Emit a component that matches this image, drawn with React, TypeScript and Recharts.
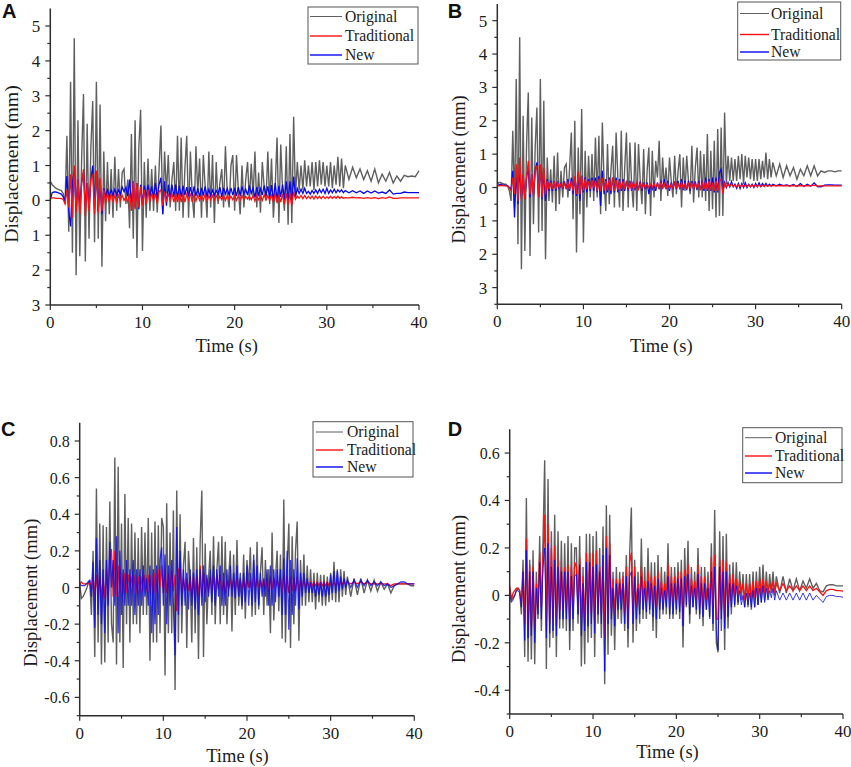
import { LineChart, Line, XAxis, YAxis } from "recharts";

const times = [
  0, 0.2, 0.4, 0.6, 0.8, 1, 1.2, 1.4, 1.6, 1.8,
  2, 2.2, 2.4, 2.6, 2.8, 3, 3.2, 3.4, 3.6, 3.8,
  4, 4.2, 4.4, 4.6, 4.8, 5, 5.2, 5.4, 5.6, 5.8,
  6, 6.2, 6.4, 6.6, 6.8, 7, 7.2, 7.4, 7.6, 7.8,
  8, 8.2, 8.4, 8.6, 8.8, 9, 9.2, 9.4, 9.6, 9.8,
  10, 10.2, 10.4, 10.6, 10.8, 11, 11.2, 11.4, 11.6, 11.8,
  12, 12.2, 12.4, 12.6, 12.8, 13, 13.2, 13.4, 13.6, 13.8,
  14, 14.2, 14.4, 14.6, 14.8, 15, 15.2, 15.4, 15.6, 15.8,
  16, 16.2, 16.4, 16.6, 16.8, 17, 17.2, 17.4, 17.6, 17.8,
  18, 18.2, 18.4, 18.6, 18.8, 19, 19.2, 19.4, 19.6, 19.8,
  20, 20.2, 20.4, 20.6, 20.8, 21, 21.2, 21.4, 21.6, 21.8,
  22, 22.2, 22.4, 22.6, 22.8, 23, 23.2, 23.4, 23.6, 23.8,
  24, 24.2, 24.4, 24.6, 24.8, 25, 25.2, 25.4, 25.6, 25.8,
  26, 26.2, 26.4, 26.6, 26.8, 27, 27.2, 27.4, 27.6, 27.8,
  28, 28.2, 28.4, 28.6, 28.8, 29, 29.2, 29.4, 29.6, 29.8,
  30, 30.2, 30.4, 30.6, 30.8, 31, 31.2, 31.4, 31.6, 31.8,
  32, 32.4, 32.8, 33.2, 33.6, 34, 34.4, 34.8, 35.2, 35.6,
  36, 36.4, 36.8, 37.2, 37.6, 38, 38.4, 38.8, 39.2, 39.6,
  40,
];

const originalA = [
  0.55, 0.45, 0.4, 0.35, 0.32, 0.3, 0.28, 0.2, -0.1, 1.85,
  -0.9, 3.4, -1.5, 4.65, -2.15, 2.3, -1.6, 1.2, 3.05, -1.75,
  2.2, -1.1, 1.5, 2.85, -1.2, 3.4, -1.1, 2.75, -1.9, 1.4,
  -0.6, 1.1, -0.4, 0.9, -0.5, 1.25, -0.3, 0.9, -0.2, 0.8,
  0.9, -0.1, 0.6, -0.8, 1.9, -1.1, 2.3, -1.65, 1.5, 2.6,
  -1.45, 1.1, -0.5, 1.2, -0.3, 0.9, -0.3, 1.0, -0.35, 0.9,
  2.15, -0.4, 1.4, 0.2, 1.3, -0.2, 0.6, 1.1, -0.3, 1.85,
  -0.3, 1.8, -0.5, 0.9, 1.85, -0.5, 1.4, 0.1, -0.5, 1.55,
  0.2, 1.2, -0.5, 1.3, 0.4, -0.5, 1.4, -0.2, 1.3, -0.65,
  1.1, -0.1, 0.5, 0.9, -0.2, 1.55, 0.2, -0.2, 1.0, 1.3,
  -0.3, 1.3, 0.3, -0.4, 1.0, -0.2, 0.6, 1.1, 0, 1.05,
  0.1, 1.4, -0.2, 0.8, -0.35, 1.1, 0.4, 0, 1.4, -0.1,
  1.2, -0.5, 0.4, 1.8, -0.65, 1.6, 0.3, -0.3, 1.55, -0.7,
  1.9, -0.65, 2.4, 0.1, 1.1, 0.3, 1.0, 0.3, 1.15, 0.4,
  1.0, 0.4, 1.1, 0.3, 1.1, 0.4, 1.15, 0.45, 1.1, 0.4,
  1.0, 0.4, 1.1, 0.35, 1.0, 0.45, 1.25, 0.4, 1.2, 0.35,
  1.0, 0.6, 0.95, 0.65, 0.9, 0.6, 0.85, 0.55, 0.9, 0.5,
  0.75, 0.55, 0.8, 0.5, 0.7, 0.55, 0.72, 0.68, 0.7, 0.68,
  0.85,
];
const traditionalA = [
  0.06, 0.07, 0.07, 0.06, 0.06, 0.06, 0.05, 0.03, -0.1, 0.3,
  -0.2, 0.75, -0.5, 1.0, -0.35, 0.6, -0.4, 0.5, 0.9, -0.45,
  0.5, -0.3, 0.6, 0.75, -0.4, 0.85, -0.35, 0.65, -0.3, 0.3,
  -0.1, 0.2, -0.05, 0.2, -0.05, 0.15, -0.05, 0.15, 0, 0.15,
  0, 0.1, -0.05, 0.2, -0.3, 0.55, -0.25, 0.5, -0.2, 0.4,
  -0.15, 0.3, -0.1, 0.3, -0.05, 0.2, 0, 0.2, -0.1, 0.25,
  0.3, -0.15, 0.25, -0.05, 0.2, 0, 0.2, -0.05, 0.2, -0.05,
  0.2, -0.05, 0.2, -0.05, 0.18, 0, 0.2, -0.05, 0.18, -0.02,
  0.15, 0, 0.15, 0, 0.18, -0.02, 0.14, 0.02, 0.14, 0,
  0.14, 0.02, 0.12, 0.02, 0.14, 0, 0.14, 0.02, 0.12, 0.02,
  0.14, 0, 0.14, 0.02, 0.14, 0.02, 0.12, 0.04, 0.12, 0.02,
  0.14, -0.02, 0.14, 0.02, 0.12, 0, 0.16, 0.02, 0.14, 0,
  0.15, -0.05, 0.2, -0.08, 0.16, -0.05, 0.18, -0.1, 0.2, -0.12,
  0.2, -0.15, 0.25, 0.03, 0.12, 0.06, 0.14, 0.05, 0.14, 0.05,
  0.12, 0.05, 0.13, 0.04, 0.13, 0.05, 0.12, 0.05, 0.12, 0.05,
  0.1, 0.06, 0.12, 0.06, 0.11, 0.06, 0.12, 0.06, 0.1, 0.06,
  0.08, 0.07, 0.09, 0.07, 0.08, 0.06, 0.08, 0.06, 0.08, 0.05,
  0.08, 0.06, 0.1, 0.06, 0.06, 0.07, 0.07, 0.07, 0.07, 0.07,
  0.07,
];
const newA = [
  0, 0.22, 0.24, 0.24, 0.22, 0.2, 0.18, 0.1, -0.05, 0.7,
  -0.3, -0.75, 0.5, 0.85, -0.3, 0.6, -0.2, 0.5, 0.8, -0.2,
  0.5, -0.2, 0.6, 1.0, -0.25, 0.85, -0.3, 0.6, -0.4, 0.35,
  0.1, 0.3, 0.12, 0.3, 0.15, 0.32, 0.15, 0.3, 0.18, 0.38,
  0.25, 0.38, 0.12, 0.6, -0.1, 0.55, -0.2, 0.5, -0.25, 0.45,
  -0.1, 0.42, 0.05, 0.45, 0.1, 0.4, 0.05, 0.5, 0.05, 0.45,
  0.65, -0.4, 0.55, -0.15, 0.45, 0.05, 0.45, 0.1, 0.45, 0.08,
  0.42, 0.1, 0.42, 0.15, 0.38, 0.12, 0.38, 0.12, 0.4, 0.12,
  0.35, 0.1, 0.36, 0.14, 0.4, 0.1, 0.32, 0.14, 0.3, 0.15,
  0.28, 0.18, 0.38, 0.1, 0.36, 0.18, 0.34, 0.14, 0.36, 0.15,
  0.36, 0.12, 0.38, 0.14, 0.4, 0.18, 0.32, 0.15, 0.42, 0.2,
  0.36, 0.08, 0.38, 0.16, 0.34, 0.16, 0.42, 0.14, 0.4, 0.08,
  0.44, -0.02, 0.5, 0.02, 0.42, 0.1, 0.45, 0.02, 0.55, -0.05,
  0.55, -0.1, 0.68, 0.1, 0.34, 0.2, 0.32, 0.2, 0.35, 0.2,
  0.26, 0.18, 0.28, 0.2, 0.3, 0.2, 0.32, 0.22, 0.32, 0.2,
  0.35, 0.2, 0.3, 0.22, 0.32, 0.22, 0.3, 0.24, 0.3, 0.22,
  0.28, 0.22, 0.28, 0.22, 0.27, 0.2, 0.27, 0.21, 0.27, 0.21,
  0.24, 0.2, 0.3, 0.18, 0.2, 0.2, 0.24, 0.22, 0.22, 0.22,
  0.22,
];

const originalB = [
  0.1, 0.15, 0.15, 0.12, 0.1, 0.1, 0.05, -0.1, -0.4, 1.7,
  -0.6, 3.25, -1.7, 4.5, -2.45, 2.15, -1.9, 1.3, 2.85, -2.05,
  2.1, -1.1, 1.2, 2.4, -1.35, 3.25, -1.3, 2.6, -2.15, 0.9,
  -0.4, 0.55, -0.45, 0.95, -0.7, 1.05, -0.5, 0.5, -0.3, 0.6,
  0.7, -0.3, 0.6, 1.65, -0.95, 2.0, -1.95, 1.2, -0.8, 2.35,
  -1.65, 1.1, -0.6, 0.95, -0.3, 1.0, -0.4, 1.5, -0.3, 1.55,
  -0.8, 1.95, 0.2, -0.7, 1.3, -0.5, 0.5, 1.25, -0.6, 1.65,
  0.3, -0.6, 1.7, -0.7, 0.6, 1.65, -0.6, 1.35, 0.1, -0.6,
  1.35, -0.7, 1.3, 0.2, -0.5, 1.15, -0.8, 0.5, 1.2, -0.85,
  1.1, -0.3, 0.8, 0.3, 1.4, -0.4, 0.9, 0, 0.6, -0.25,
  0.9, 0.2, -0.3, 0.95, -0.2, 0.5, 1.0, -0.6, 0.9, -0.1,
  0.95, 0.2, -0.2, 1.25, -0.45, 0.6, 1.2, -0.3, 1.1, -0.3,
  1.0, -0.4, 1.6, -0.7, 1.1, -0.65, 1.4, -0.9, 1.75, -0.85,
  1.8, -0.85, 2.25, 0.1, 0.95, 0.2, 0.9, 0.2, 0.85, 0.2,
  0.95, 0.25, 1.0, 0.1, 0.95, 0.3, 0.9, 0.25, 0.85, 0.2,
  0.85, 0.2, 0.85, 0.25, 0.8, 0.3, 1.05, 0.25, 0.85, 0.3,
  0.75, 0.35, 0.7, 0.3, 0.65, 0.35, 0.6, 0.25, 0.55, 0.35,
  0.65, 0.35, 0.65, 0.35, 0.5, 0.45, 0.5, 0.5, 0.47, 0.5,
  0.5,
];
const traditionalB = [
  0.05, 0.05, 0.06, 0.06, 0.05, 0.05, 0.04, -0.02, -0.1, 0.3,
  -0.2, 0.7, -0.4, 0.9, -0.35, 0.4, -0.35, 0.3, 0.8, -0.2,
  0.4, -0.25, 0.5, 0.65, -0.3, 0.7, -0.3, 0.6, -0.2, 0.2,
  -0.05, 0.15, -0.05, 0.18, -0.05, 0.15, 0, 0.12, 0, 0.12,
  -0.02, 0.15, -0.05, 0.2, -0.1, 0.35, -0.2, 0.48, -0.2, 0.35,
  -0.1, 0.25, -0.05, 0.2, -0.05, 0.22, -0.02, 0.2, -0.1, 0.25,
  -0.12, 0.3, -0.1, 0.2, -0.08, 0.25, -0.1, 0.3, -0.1, 0.22,
  -0.08, 0.2, -0.05, 0.18, -0.05, 0.15, -0.03, 0.14, -0.04, 0.15,
  -0.03, 0.14, -0.05, 0.12, -0.02, 0.12, 0, 0.1, 0, 0.1,
  0, 0.12, 0, 0.12, -0.02, 0.14, 0, 0.12, -0.02, 0.12,
  -0.02, 0.1, -0.02, 0.14, 0, 0.12, -0.02, 0.14, -0.02, 0.12,
  -0.02, 0.12, -0.02, 0.14, -0.02, 0.12, -0.02, 0.12, -0.04, 0.14,
  -0.05, 0.18, -0.08, 0.2, -0.08, 0.15, -0.1, 0.2, -0.12, 0.2,
  0.25, -0.18, 0.12, 0.02, 0.1, 0.03, 0.1, 0.03, 0.08, 0.02,
  0.08, 0.02, 0.08, 0.03, 0.07, 0.02, 0.08, 0.03, 0.07, 0.03,
  0.07, 0.03, 0.07, 0.03, 0.07, 0.04, 0.07, 0.04, 0.06, 0.04,
  0.06, 0.05, 0.06, 0.05, 0.06, 0.04, 0.06, 0.04, 0.06, 0.04,
  0.06, 0.05, 0.07, 0.04, 0.05, 0.05, 0.05, 0.05, 0.05, 0.05,
  0.05,
];
const newB = [
  0.06, 0.08, 0.1, 0.08, 0.07, 0.06, 0.05, 0, -0.05, 0.5,
  -0.9, 0.5, -0.5, 0.6, -0.3, 0.35, -0.35, 0.3, 0.6, -0.3,
  0.4, -0.2, 0.5, 0.75, -0.3, 0.65, -0.35, 0.5, -0.4, 0.25,
  -0.1, 0.2, -0.1, 0.2, -0.1, 0.18, -0.05, 0.15, -0.05, 0.18,
  -0.05, 0.25, -0.1, 0.3, -0.2, 0.3, -0.25, 0.4, -0.4, 0.35,
  -0.15, 0.3, -0.15, 0.25, -0.1, 0.3, -0.1, 0.3, -0.15, 0.35,
  -0.55, 0.5, -0.2, 0.25, -0.15, 0.3, -0.2, 0.3, -0.15, 0.3,
  -0.15, 0.25, -0.1, 0.25, -0.1, 0.2, -0.1, 0.2, -0.1, 0.18,
  -0.08, 0.16, -0.05, 0.18, -0.1, 0.15, -0.05, 0.15, -0.2, 0.1,
  -0.05, 0.12, -0.1, 0.15, -0.05, 0.2, -0.05, 0.25, -0.05, 0.2,
  -0.1, 0.15, -0.05, 0.18, -0.05, 0.2, -0.05, 0.25, -0.08, 0.2,
  -0.08, 0.2, -0.1, 0.2, -0.05, 0.18, -0.08, 0.2, -0.08, 0.2,
  -0.1, 0.3, -0.1, 0.25, -0.1, 0.3, -0.15, 0.3, -0.15, 0.45,
  0.55, -0.1, 0.15, 0, 0.15, 0.02, 0.18, 0.02, 0.1, -0.02,
  0.12, -0.03, 0.12, 0, 0.14, 0, 0.1, 0.02, 0.1, 0,
  0.12, 0.02, 0.14, 0.03, 0.12, 0.04, 0.12, 0.04, 0.1, 0.05,
  0.1, 0.05, 0.1, 0.06, 0.08, 0.05, 0.09, 0.03, 0.12, 0.03,
  0.1, 0.04, 0.14, 0.03, 0.02, 0.07, 0.08, 0.08, 0.07, 0.07,
  0.07,
];

const originalC = [
  0.02, -0.06, -0.05, -0.03, -0.01, 0.02, 0.04, -0.15, 0.2, -0.38,
  0.54, -0.3, 0.35, -0.42, 0.34, -0.41, 0.33, -0.3, 0.47, -0.2,
  -0.3, 0.71, -0.42, 0.66, -0.3, 0.35, -0.44, 0.51, -0.2, 0.38,
  -0.3, 0.35, -0.2, 0.3, -0.2, 0.27, -0.25, 0.33, -0.15, 0.3,
  -0.15, 0.38, -0.4, 0.3, -0.3, 0.36, -0.3, 0.34, -0.25, 0.38,
  0.33, -0.48, 0.46, -0.25, 0.3, -0.25, 0.42, -0.56, 0.53, -0.3,
  0.4, -0.25, 0.12, 0.25, -0.33, 0.2, 0.05, -0.3, 0.27, -0.25,
  0.22, -0.39, 0.25, 0.53, -0.38, 0.24, -0.2, 0.05, 0.2, -0.15,
  0.28, -0.2, 0.1, 0.25, -0.2, 0.28, -0.15, 0.25, -0.2, 0.05,
  0.2, -0.24, 0.18, -0.15, 0.26, -0.1, 0.05, -0.12, 0.18, -0.17,
  0.15, 0, 0.22, -0.16, 0.15, -0.15, 0.25, -0.12, 0.08, 0.22,
  -0.15, 0.15, -0.1, 0.1, -0.25, 0.3, -0.18, 0.05, 0.2, -0.13,
  0.18, -0.28, 0.48, -0.3, 0.1, 0.35, -0.33, 0.28, -0.2, 0.2,
  0.36, -0.29, 0.15, -0.1, 0.18, -0.1, 0.12, -0.08, 0.1, -0.08,
  0.08, -0.12, 0.08, -0.08, 0.07, -0.1, 0.07, -0.1, 0.06, -0.08,
  0.08, -0.07, 0.14, -0.08, 0.1, -0.08, 0.1, -0.05, 0.09, -0.04,
  0.06, -0.05, 0.05, -0.04, 0.05, -0.03, 0.04, -0.02, 0.04, -0.02,
  0.03, -0.01, 0.02, -0.03, 0.01, 0.02, 0.02, 0.02, 0.02, 0.01,
  0.01,
];
const traditionalC = [
  0.02, 0.03, 0.02, 0.02, 0.02, 0.02, 0.03, -0.01, 0.06, -0.05,
  0.07, -0.04, 0.06, -0.06, 0.05, -0.06, 0.1, -0.05, 0.14, 0.21,
  -0.05, 0.2, -0.05, 0.12, -0.03, 0.08, -0.04, 0.08, -0.03, 0.07,
  0, 0.06, -0.02, 0.07, -0.03, 0.06, -0.03, 0.06, -0.02, 0.07,
  -0.02, 0.07, -0.03, 0.07, -0.04, 0.08, -0.03, 0.1, 0, 0.12,
  -0.03, 0.1, -0.03, 0.08, 0, 0.09, -0.02, 0.07, -0.13, 0.1,
  0.1, -0.03, 0.05, -0.02, 0.05, -0.02, 0.06, -0.05, 0.06, -0.04,
  0.06, -0.05, 0.12, -0.05, 0.08, -0.03, 0.05, -0.03, 0.06, -0.02,
  0.06, -0.02, 0.07, -0.01, 0.07, -0.02, 0.04, -0.03, 0.04, -0.01,
  0.05, -0.01, 0.04, -0.01, 0.05, -0.02, 0.04, -0.01, 0.04, -0.01,
  0.05, 0, 0.04, -0.01, 0.06, 0, 0.05, 0, 0.04, 0,
  0.04, 0, 0.05, -0.02, 0.06, -0.01, 0.05, 0, 0.04, 0,
  0.05, -0.03, 0.07, -0.03, 0.06, -0.03, 0.06, -0.02, 0.05, -0.02,
  0.06, -0.02, 0.04, 0, 0.04, 0, 0.03, 0.01, 0.03, 0.01,
  0.03, 0.01, 0.03, 0.01, 0.03, 0.01, 0.03, 0.01, 0.03, 0.01,
  0.03, 0.01, 0.03, 0.01, 0.03, 0.01, 0.03, 0.02, 0.03, 0.02,
  0.03, 0.02, 0.03, 0.02, 0.03, 0.02, 0.03, 0.02, 0.02, 0.02,
  0.02, 0.02, 0.02, 0.01, 0.02, 0.02, 0.02, 0.02, 0.02, 0.02,
  0.02,
];
const newC = [
  0.02, 0.01, 0.01, 0.01, 0.02, 0.03, 0.04, -0.05, 0.14, -0.22,
  0.27, -0.15, 0.15, -0.2, 0.1, -0.25, 0.15, -0.1, 0.25, 0,
  0.15, -0.1, 0.28, -0.25, 0.2, -0.15, 0.1, -0.1, 0.15, -0.1,
  0.1, -0.1, 0.15, -0.15, 0.1, -0.1, 0.1, -0.1, 0.12, -0.05,
  0.05, -0.1, 0.12, -0.25, 0.1, -0.2, 0.12, -0.15, 0.15, 0.22,
  -0.1, 0.18, -0.2, 0.12, -0.1, 0.15, -0.1, -0.37, 0.33, -0.15,
  0.2, -0.1, 0.1, -0.1, 0.08, -0.12, 0.1, -0.1, 0.08, -0.12,
  0.1, -0.15, 0.1, -0.1, 0.12, -0.08, 0.07, -0.05, 0.1, -0.08,
  0.12, -0.1, 0.1, -0.05, 0.12, -0.1, 0.08, -0.1, 0.1, -0.05,
  0.12, -0.05, 0.08, -0.06, 0.12, -0.05, 0.08, -0.1, 0.08, -0.08,
  0.12, -0.1, 0.08, -0.1, 0.18, -0.08, 0.12, -0.1, 0.08, -0.05,
  0.05, -0.05, 0.1, -0.1, 0.12, -0.1, 0.1, -0.08, 0.1, -0.05,
  0.1, -0.15, 0.16, -0.15, 0.2, -0.23, 0.15, -0.15, 0.1, -0.1,
  0.16, -0.12, 0.08, -0.05, 0.08, -0.03, 0.05, -0.03, 0.03, -0.03,
  0.03, -0.05, 0.03, -0.04, 0.03, -0.05, 0.03, -0.05, 0.03, -0.04,
  0.07, -0.03, 0.09, -0.03, 0.09, -0.02, 0.06, -0.01, 0.05, 0,
  0.04, 0, 0.04, 0, 0.04, 0.01, 0.04, 0.01, 0.03, 0.01,
  0.03, 0.01, 0.02, 0, 0.01, 0.02, 0.03, 0.03, 0.02, 0.02,
  0.02,
];

const originalD = [
  0.03, -0.02, -0.01, 0, 0.02, 0.03, 0.02, -0.08, 0.15, -0.26,
  0.41, -0.28, 0.15, -0.27, 0.19, -0.29, 0.1, -0.1, 0.25, -0.15,
  0.24, 0.57, -0.31, 0.49, -0.22, 0.27, -0.18, 0.34, -0.26, 0.27,
  -0.14, 0.23, -0.14, 0.22, -0.15, 0.25, -0.23, 0.22, -0.15, 0.2,
  0.2, -0.12, 0.25, -0.3, 0.12, -0.29, 0.26, -0.2, 0.26, -0.18,
  0.25, -0.26, 0.27, -0.12, 0.2, -0.18, 0.29, -0.375, 0.38, -0.25,
  0.34, -0.17, 0.1, -0.23, 0.12, -0.1, 0.1, -0.12, 0.1, -0.15,
  0.17, -0.22, 0.18, 0.37, -0.2, 0.15, -0.15, 0.1, -0.12, 0.24,
  -0.1, 0.12, -0.1, 0.2, -0.08, 0.14, -0.15, 0.14, -0.18, 0.17,
  -0.1, 0.12, -0.08, 0.1, -0.08, 0.22, -0.1, 0.12, -0.1, 0.12,
  -0.08, 0.14, -0.1, 0.15, -0.22, 0.2, -0.05, 0.23, -0.12, 0.12,
  -0.05, 0.1, -0.08, 0.2, -0.1, 0.12, -0.13, 0.12, -0.06, 0.1,
  -0.1, 0.22, -0.15, 0.36, -0.2, -0.24, 0.27, -0.15, 0.25, -0.23,
  0.26, -0.14, 0.13, -0.08, 0.14, -0.05, 0.14, -0.04, 0.1, -0.02,
  0.09, -0.05, 0.09, -0.05, 0.09, -0.06, 0.1, -0.05, 0.1, -0.04,
  0.12, -0.03, 0.13, -0.02, 0.1, -0.01, 0.09, 0.01, 0.1, 0,
  0.08, 0.01, 0.08, 0.01, 0.07, 0.02, 0.07, 0.02, 0.06, 0.03,
  0.07, 0.03, 0.05, 0.02, 0.015, 0.04, 0.045, 0.045, 0.04, 0.04,
  0.04,
];
const traditionalD = [
  0.04, -0.02, 0.01, 0.02, 0.03, 0.03, 0.02, -0.04, 0.1, -0.12,
  0.24, -0.15, 0.13, -0.13, 0.12, -0.14, 0.05, -0.05, 0.18, -0.05,
  0.15, 0.34, -0.15, 0.3, -0.12, 0.2, -0.1, 0.21, -0.13, 0.15,
  -0.06, 0.12, -0.07, 0.12, -0.06, 0.13, -0.1, 0.12, -0.05, 0.14,
  0.12, -0.05, 0.16, -0.1, 0.08, -0.12, 0.18, -0.08, 0.18, -0.08,
  0.18, -0.12, 0.19, -0.04, 0.12, -0.08, 0.14, -0.18, 0.25, -0.08,
  0.22, -0.06, 0.07, -0.08, 0.07, -0.02, 0.07, -0.02, 0.08, -0.08,
  0.12, -0.12, 0.14, 0.18, -0.08, 0.12, -0.05, 0.05, -0.03, 0.12,
  -0.02, 0.06, -0.03, 0.1, -0.02, 0.08, -0.05, 0.08, -0.05, 0.1,
  -0.02, 0.06, -0.02, 0.05, -0.02, 0.13, -0.03, 0.08, -0.03, 0.08,
  -0.02, 0.1, -0.04, 0.1, -0.1, 0.11, 0, 0.13, -0.04, 0.07,
  -0.01, 0.06, -0.02, 0.13, -0.05, 0.08, -0.05, 0.08, -0.02, 0.05,
  -0.04, 0.16, -0.06, 0.17, -0.1, -0.1, 0.15, -0.06, 0.15, -0.1,
  0.14, -0.05, 0.09, -0.02, 0.09, 0, 0.07, 0, 0.06, 0.01,
  0.05, -0.02, 0.05, -0.01, 0.05, -0.02, 0.06, -0.01, 0.06, 0,
  0.07, 0, 0.07, 0.01, 0.06, 0.01, 0.05, 0.02, 0.06, 0.01,
  0.05, 0.02, 0.05, 0.02, 0.04, 0.02, 0.04, 0.02, 0.04, 0.02,
  0.04, 0.02, 0.03, 0.015, 0, 0.02, 0.025, 0.025, 0.02, 0.02,
  0.018,
];
const newD = [
  0.01, -0.03, -0.02, 0, 0.02, 0.02, 0.01, -0.05, 0.1, -0.19,
  0.19, -0.18, 0.1, -0.17, 0.1, -0.2, 0.03, -0.08, 0.14, -0.1,
  0.12, 0.2, -0.18, 0.22, -0.16, 0.12, -0.15, 0.15, -0.17, 0.12,
  -0.1, 0.1, -0.1, 0.1, -0.1, 0.1, -0.15, 0.08, -0.1, 0.08,
  0.09, -0.08, 0.13, -0.17, 0.05, -0.15, 0.14, -0.13, 0.14, -0.12,
  0.12, -0.16, 0.13, -0.08, 0.1, -0.12, 0.17, -0.32, 0.2, -0.12,
  0.17, -0.1, 0.03, -0.13, 0.05, -0.06, 0.05, -0.06, 0.05, -0.12,
  0.08, -0.14, 0.08, 0.1, -0.12, 0.08, -0.1, 0.03, -0.08, 0.08,
  -0.06, 0.03, -0.07, 0.06, -0.06, 0.05, -0.09, 0.04, -0.1, 0.07,
  -0.06, 0.03, -0.06, 0.02, -0.05, 0.08, -0.08, 0.05, -0.08, 0.05,
  -0.06, 0.07, -0.07, 0.07, -0.13, 0.08, -0.04, 0.09, -0.08, 0.04,
  -0.05, 0.03, -0.06, 0.09, -0.08, 0.05, -0.09, 0.05, -0.06, 0.03,
  -0.09, 0.1, -0.12, 0.12, -0.15, -0.23, 0.12, -0.1, 0.1, -0.14,
  0.1, -0.09, 0.05, -0.05, 0.05, -0.04, 0.04, -0.03, 0.02, -0.04,
  0, -0.05, 0.01, -0.04, 0.01, -0.05, 0.02, -0.05, 0.03, -0.04,
  0.03, -0.03, 0.04, -0.03, 0.03, -0.02, 0.02, -0.01, 0.03, -0.02,
  0.02, -0.02, 0.01, -0.02, 0.01, -0.02, 0.01, -0.02, 0.01, -0.02,
  0.01, -0.02, 0, -0.015, -0.03, -0.005, 0, 0, -0.005, -0.005,
  -0.008,
];

const xTicks = [0, 5, 10, 15, 20, 25, 30, 35, 40];
const xLabels = [0, 10, 20, 30, 40];
const yTicksA = [-3, -2.5, -2, -1.5, -1, -0.5, 0, 0.5, 1, 1.5, 2, 2.5, 3, 3.5, 4, 4.5, 5];
const yTicksB = [-3.5, ...yTicksA];
const yLabelsAB = [-3, -2, -1, 0, 1, 2, 3, 4, 5];
const yTicksC = [-0.7, -0.6, -0.5, -0.4, -0.3, -0.2, -0.1, 0, 0.1, 0.2, 0.3, 0.4, 0.5, 0.6, 0.7, 0.8];
const yLabelsC = [-0.6, -0.4, -0.2, 0, 0.2, 0.4, 0.6, 0.8];
const yTicksD = [-0.5, -0.4, -0.3, -0.2, -0.1, 0, 0.1, 0.2, 0.3, 0.4, 0.5, 0.6];
const yLabelsD = [-0.4, -0.2, 0, 0.2, 0.4, 0.6];

const GRAY = "#5f5f5f";
const RED = "#ff1010";
const BLUE = "#0808f0";
const INK = "#1c1c1c";
const AXIS = "#2e2e2e";
const SERIF = "'Liberation Serif', 'Times New Roman', serif";

const absLabel = (v: number) => String(Math.abs(v));
const signedLabel = (v: number) => (v === 0 ? "0" : v.toFixed(1));

function makeRows(a: number[], b: number[], c: number[]) {
  return times.map((t, i) => ({ t, Original: a[i], Traditional: b[i], New: c[i] }));
}

const XTick = (props: any) => {
  const { x, y, payload } = props;
  const major = xLabels.includes(payload.value);
  return (
    <g>
      <line x1={x} y1={y} x2={x} y2={y + (major ? 5 : 3)} stroke={AXIS} strokeWidth={1.2} />
      {major && (
        <text x={x} y={y + 23} textAnchor="middle" fontSize={17} fontFamily={SERIF} fill={INK}>
          {payload.value}
        </text>
      )}
    </g>
  );
};

function makeYTick(labels: number[], format: (v: number) => string, fontSize: number) {
  return (props: any) => {
    const { x, y, payload } = props;
    const major = labels.includes(payload.value);
    return (
      <g>
        <line x1={x} y1={y} x2={x - (major ? 5 : 3)} y2={y} stroke={AXIS} strokeWidth={1.2} />
        {major && (
          <text x={x - 10} y={y + 6} textAnchor="end" fontSize={fontSize} fontFamily={SERIF} fill={INK}>
            {format(payload.value)}
          </text>
        )}
      </g>
    );
  };
}

interface PanelProps {
  letter: string;
  letterAt: [number, number];
  rows: ReturnType<typeof makeRows>;
  box: { left: number; top: number; width: number; height: number };
  plot: { x0: number; x1: number; y0: number; y1: number };
  domain: [number, number];
  yTicks: number[];
  yLabels: number[];
  format: (v: number) => string;
  tickFont: number;
  yTitle: { x: number; y: number; size: number };
  xTitle: { x: number; y: number };
  legend: { x: number; y: number; w: number; h: number; rows: number[]; lineX: number; lineW: number; textX: number };
  redOnTop: boolean;
  newWidth: number;
  newOpacity: number;
}

function Panel(p: PanelProps) {
  const { box, plot, legend } = p;
  const redLine = (
    <Line dataKey="Traditional" stroke={RED} strokeWidth={1.3} dot={false} isAnimationActive={false} />
  );
  const blueLine = (
    <Line
      dataKey="New"
      stroke={BLUE}
      strokeWidth={p.newWidth}
      strokeOpacity={p.newOpacity}
      dot={false}
      isAnimationActive={false}
    />
  );
  const names: [string, string][] = [
    ["Original", GRAY],
    ["Traditional", RED],
    ["New", BLUE],
  ];
  return (
    <div style={{ position: "absolute", left: box.left, top: box.top }}>
      <LineChart
        width={box.width}
        height={box.height}
        data={p.rows}
        margin={{
          left: plot.x0 - box.left - 1,
          right: box.left + box.width - plot.x1,
          top: plot.y0 - box.top,
          bottom: box.top + box.height - plot.y1 - 1,
        }}
      >
        <XAxis
          dataKey="t"
          type="number"
          domain={[0, 40]}
          ticks={xTicks}
          interval={0}
          height={1}
          stroke={AXIS}
          strokeWidth={1.5}
          tickLine={false}
          tickSize={0}
          tickMargin={0}
          tick={XTick}
        />
        <YAxis
          type="number"
          domain={p.domain}
          ticks={p.yTicks}
          interval={0}
          width={1}
          stroke={AXIS}
          strokeWidth={1.5}
          tickLine={false}
          tickSize={0}
          tickMargin={0}
          tick={makeYTick(p.yLabels, p.format, p.tickFont)}
        />
        <Line dataKey="Original" stroke={GRAY} strokeWidth={1.4} dot={false} isAnimationActive={false} />
        {p.redOnTop ? blueLine : redLine}
        {p.redOnTop ? redLine : blueLine}
        <g transform={`translate(${-box.left},${-box.top})`}>
          <text x={p.letterAt[0]} y={p.letterAt[1]} fontSize={20} fontWeight="bold" fontFamily="'Liberation Sans', Arial, sans-serif" fill="#111">
            {p.letter}
          </text>
          <text
            transform={`translate(${p.yTitle.x},${p.yTitle.y}) rotate(-90)`}
            textAnchor="middle"
            fontSize={p.yTitle.size}
            fontFamily={SERIF}
            fill={INK}
          >
            Displacement (mm)
          </text>
          <text x={p.xTitle.x} y={p.xTitle.y} textAnchor="middle" fontSize={18.5} fontFamily={SERIF} fill={INK}>
            Time (s)
          </text>
          <rect x={legend.x} y={legend.y} width={legend.w} height={legend.h} fill="#fff" stroke="#555" strokeWidth={1} />
          {names.map(([name, color], i) => (
            <g key={name}>
              <line
                x1={legend.lineX}
                x2={legend.lineX + legend.lineW}
                y1={legend.rows[i]}
                y2={legend.rows[i]}
                stroke={color}
                strokeWidth={i === 0 ? 1 : 1.4}
              />
              <text x={legend.textX} y={legend.rows[i] + 5} fontSize={15.7} fontFamily={SERIF} fill="#222">
                {name}
              </text>
            </g>
          ))}
        </g>
      </LineChart>
    </div>
  );
}

export default function App() {
  return (
    <div style={{ position: "absolute", left: 0, top: 0, width: 851, height: 767, background: "#fff", overflow: "hidden" }}>
      <Panel
        letter="A"
        letterAt={[2, 18]}
        rows={makeRows(originalA, traditionalA, newA)}
        box={{ left: 0, top: 0, width: 435, height: 370 }}
        plot={{ x0: 50.3, x1: 419, y0: 8.6, y1: 305 }}
        domain={[-3, 5.5]}
        yTicks={yTicksA}
        yLabels={yLabelsAB}
        format={absLabel}
        tickFont={17}
        yTitle={{ x: 18, y: 164, size: 19.8 }}
        xTitle={{ x: 226.7, y: 352 }}
        legend={{ x: 308, y: 7, w: 110, h: 57, rows: [16.5, 36, 55], lineX: 310, lineW: 32, textX: 345 }}
        redOnTop
        newWidth={1.3}
        newOpacity={1}
      />
      <Panel
        letter="B"
        letterAt={[447.7, 18.3]}
        rows={makeRows(originalB, traditionalB, newB)}
        box={{ left: 425, top: 0, width: 426, height: 370 }}
        plot={{ x0: 497.3, x1: 841.7, y0: 4, y1: 304.3 }}
        domain={[-3.5, 5.5]}
        yTicks={yTicksB}
        yLabels={yLabelsAB}
        format={absLabel}
        tickFont={17}
        yTitle={{ x: 465, y: 169.3, size: 18.6 }}
        xTitle={{ x: 661.3, y: 352 }}
        legend={{ x: 737.7, y: 2, w: 103, h: 58, rows: [13.5, 34.5, 52], lineX: 740, lineW: 29, textX: 771 }}
        redOnTop
        newWidth={1.3}
        newOpacity={1}
      />
      <Panel
        letter="C"
        letterAt={[1, 435.7]}
        rows={makeRows(originalC, traditionalC, newC)}
        box={{ left: 0, top: 400, width: 425, height: 367 }}
        plot={{ x0: 79.7, x1: 414.3, y0: 422.7, y1: 715.7 }}
        domain={[-0.7, 0.9]}
        yTicks={yTicksC}
        yLabels={yLabelsC}
        format={signedLabel}
        tickFont={16}
        yTitle={{ x: 37, y: 592.7, size: 18.6 }}
        xTitle={{ x: 237.5, y: 762 }}
        legend={{ x: 313, y: 421.7, w: 100, h: 55.3, rows: [432, 450, 467], lineX: 316, lineW: 27, textX: 347 }}
        redOnTop={false}
        newWidth={1.3}
        newOpacity={0.8}
      />
      <Panel
        letter="D"
        letterAt={[447.7, 436]}
        rows={makeRows(originalD, traditionalD, newD)}
        box={{ left: 425, top: 400, width: 426, height: 367 }}
        plot={{ x0: 509.7, x1: 843, y0: 429.3, y1: 714 }}
        domain={[-0.5, 0.7]}
        yTicks={yTicksD}
        yLabels={yLabelsD}
        format={signedLabel}
        tickFont={16}
        yTitle={{ x: 465, y: 589, size: 18.6 }}
        xTitle={{ x: 667.5, y: 758 }}
        legend={{ x: 742.7, y: 427.7, w: 99.3, h: 55, rows: [437.7, 456, 473], lineX: 745, lineW: 27, textX: 775 }}
        redOnTop={false}
        newWidth={1}
        newOpacity={0.8}
      />
    </div>
  );
}
